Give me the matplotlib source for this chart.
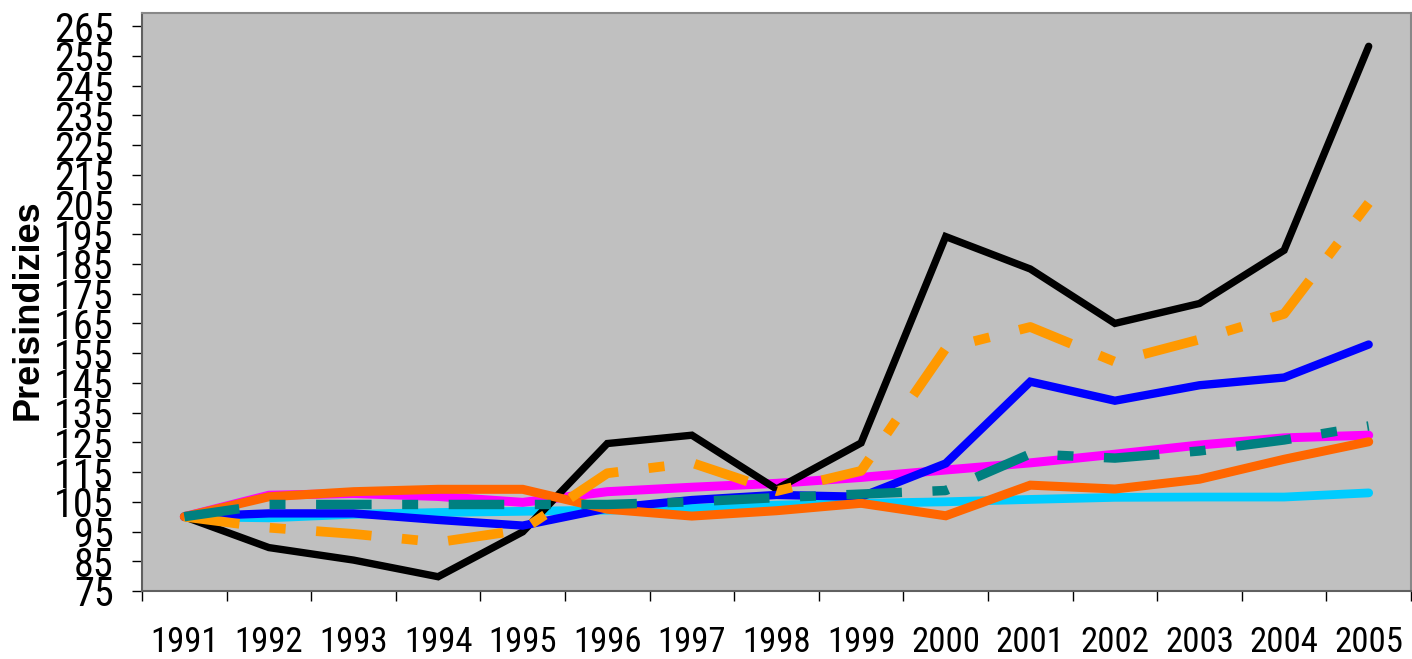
import numpy as np
import matplotlib
matplotlib.use("Agg")
from matplotlib import pyplot as plt
from matplotlib import font_manager

# price index series, 1991 = 100
years = [str(y) for y in range(1991, 2006)]
black_idx = [100, 89.6, 85.4, 79.8, 94.9, 124.6, 127.4, 109.3, 124.8, 194.2, 183.3, 165.0, 171.7, 189.6, 258.2]
amber_idx = [100, 96.3, 94.2, 91.4, 95.6, 114.6, 118.1, 108.6, 115.4, 156.6, 163.8, 152.1, 159.6, 168.2, 205.5]
blue_idx = [100, 101.1, 101.1, 98.9, 97.0, 102.8, 105.6, 107.3, 106.7, 117.9, 145.4, 139.0, 144.2, 146.8, 157.9]
magenta_idx = [100, 107.2, 107.8, 106.8, 104.8, 108.4, 109.9, 111.2, 113.2, 115.7, 118.1, 121.0, 124.1, 126.5, 127.4]
cyan_idx = [100, 99.6, 100.8, 101.4, 101.8, 102.2, 102.8, 103.9, 104.5, 105.0, 105.8, 106.5, 106.6, 106.6, 108.0]
orange_idx = [100, 106.7, 108.4, 109.2, 109.2, 102.5, 100.2, 102.0, 104.5, 100.3, 110.6, 109.3, 112.6, 119.3, 125.2]
teal_idx = [100, 104.1, 104.1, 104.1, 104.1, 104.1, 105.0, 106.4, 107.6, 108.8, 121.1, 119.7, 122.1, 125.8, 130.5]

ytick_vals = list(range(75, 266, 10))

plt.rcParams['lines.scale_dashes'] = False

# pick a narrow face if one is around, else plain Liberation Sans at a smaller size
installed = {f.name for f in font_manager.fontManager.ttflist}
narrow = None
for name in ['Liberation Sans Narrow', 'Arial Narrow', 'DejaVu Sans Condensed', 'Roboto Condensed',
             'Open Sans Condensed', 'Noto Sans Condensed']:
    if name in installed:
        narrow = name
        break
if narrow is not None:
    tick_font = [narrow, 'DejaVu Sans']
    ysize, xsize = 29, 25
else:
    tick_font = ['Liberation Sans', 'DejaVu Sans']
    ysize, xsize = 24, 21

fig = plt.figure(figsize=(14.12, 6.59), dpi=100)
ax = fig.add_axes([142 / 1412, 68 / 659, 1269 / 1412, 578 / 659])
ax.set_facecolor('#C0C0C0')

x = np.arange(len(years)) + 0.5
dash = (0, (40, 22, 11.5, 22))

ax.plot(x, magenta_idx, color='#FF00FF', lw=6.5, solid_capstyle='round', solid_joinstyle='miter', zorder=2)
ax.plot(x, cyan_idx, color='#00CCFF', lw=6.3, solid_capstyle='round', solid_joinstyle='miter', zorder=3)
ax.plot(x, black_idx, color='black', lw=5.3, solid_capstyle='round', solid_joinstyle='miter', zorder=4)
ax.plot(x, blue_idx, color='#0000FF', lw=6.0, solid_capstyle='round', solid_joinstyle='miter', zorder=5)
ax.plot(x, orange_idx, color='#FF6600', lw=6.5, solid_capstyle='round', solid_joinstyle='miter', zorder=6)
ax.plot(x, amber_idx, color='#FF9900', lw=7.0, linestyle=dash, dash_capstyle='butt', zorder=7)
ax.plot(x, teal_idx, color='#008080', lw=6.8, linestyle=dash, dash_capstyle='butt', zorder=8)

ax.set_xlim(0, len(years))
ax.set_ylim(75, 269.4)

# category boundaries get the tick marks, labels sit in the middle
ax.set_xticks(np.arange(len(years) + 1))
ax.set_xticklabels([])
ax.set_xticks(x, minor=True)
ax.set_xticklabels(years, minor=True, fontsize=xsize, family=tick_font)
ax.tick_params(axis='x', which='major', direction='out', length=7.5, width=1, color='black')
ax.tick_params(axis='x', which='minor', length=0, pad=25)

ax.set_yticks(ytick_vals)
ax.set_yticklabels([str(v) for v in ytick_vals], fontsize=ysize, family=tick_font)
ax.tick_params(axis='y', direction='out', length=7.5, width=1, color='black', pad=13)

for side in ['left', 'bottom']:
    ax.spines[side].set_color('#606060')
    ax.spines[side].set_linewidth(1.5)
for side in ['top', 'right']:
    ax.spines[side].set_color('#888888')
    ax.spines[side].set_linewidth(1.5)

fig.text(28 / 1412, 1 - 310 / 659, 'Preisindizies', rotation=90, ha='center', va='center',
         fontsize=26, fontweight='bold', family=['Liberation Sans', 'DejaVu Sans'])

fig.savefig('out.png', dpi=100)
